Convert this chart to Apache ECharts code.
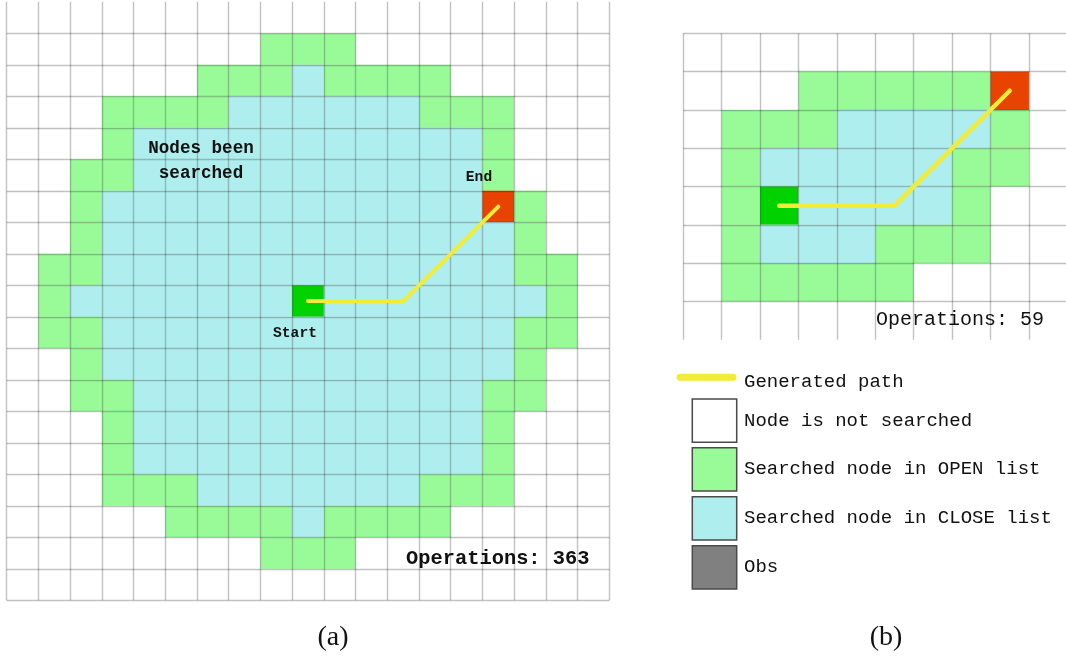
<!DOCTYPE html>
<html>
<head>
<meta charset="utf-8">
<script src="https://cdn.jsdelivr.net/npm/echarts@6/dist/echarts.min.js"></script>
<style>
  html, body { margin: 0; padding: 0; background: #fff; }
  #chart { width: 1066px; height: 662px; }
</style>
</head>
<body>
<div id="chart"></div>
<script>
// Cell states: '.' unsearched, 'o' OPEN list, 'c' CLOSE list, 'S' start, 'E' end
// Each row is written in chunks of 5 columns.
const leftRows = [
  "....." + "...oo" + "o...." + "....",
  "....." + ".oooc" + "oooo." + "....",
  "...oo" + "ooccc" + "cccoo" + "o...",
  "...oc" + "ccccc" + "ccccc" + "o...",
  "..ooc" + "ccccc" + "ccccc" + "o...",
  "..occ" + "ccccc" + "ccccc" + "Eo..",
  "..occ" + "ccccc" + "ccccc" + "co..",
  ".oocc" + "ccccc" + "ccccc" + "coo.",
  ".occc" + "ccccS" + "ccccc" + "cco.",
  ".oocc" + "ccccc" + "ccccc" + "coo.",
  "..occ" + "ccccc" + "ccccc" + "co..",
  "..ooc" + "ccccc" + "ccccc" + "oo..",
  "...oc" + "ccccc" + "ccccc" + "o...",
  "...oc" + "ccccc" + "ccccc" + "o...",
  "...oo" + "occcc" + "cccoo" + "o...",
  "....." + "ooooc" + "oooo." + "....",
  "....." + "...oo" + "o...." + "....",
  "....." + "....." + "....." + "...."
];
const rightRows = [
  "....." + ".....",
  "...oo" + "oooE.",
  ".oooc" + "ccco.",
  ".occc" + "ccoo.",
  ".oScc" + "cco..",
  ".occc" + "ooo..",
  ".oooo" + "o....",
  "....." + "....."
];
// Path waypoints in cell units (column, row), through cell centres
const leftPath = [[9.5, 8.5], [12.5, 8.5], [15.5, 5.5]];
const rightPath = [[2.5, 4.5], [5.5, 4.5], [8.5, 1.5]];
const operationCounts = [363, 59];
const panelTags = ["(a)", "(b)"];
const legendLabels = ["Generated path", "Node is not searched", "Searched node in OPEN list",
                      "Searched node in CLOSE list", "Obs"];
const legendStates = [".", "o", "c", "#"];

const stateOrder = [".", "o", "c", "S", "E", "#"];
const stateColor = {
  ".": "#ffffff",
  "o": "#98fb98",
  "c": "#afeeee",
  "S": "#00d200",
  "E": "#e84300",
  "#": "#808080"
};
const pathColor = "#f2ec38";

function toCells(rows) {
  const out = [];
  rows.forEach(function (row, r) {
    for (let c = 0; c < row.length; c++) {
      const s = row[c];
      if (s !== ".") out.push([c, r, stateOrder.indexOf(s)]);
    }
  });
  return out;
}

function renderCell(params, api) {
  const c = api.value(0), r = api.value(1);
  const p0 = api.coord([c, r]);
  const p1 = api.coord([c + 1, r + 1]);
  return {
    type: "rect",
    shape: {
      x: Math.min(p0[0], p1[0]),
      y: Math.min(p0[1], p1[1]),
      width: Math.abs(p1[0] - p0[0]),
      height: Math.abs(p1[1] - p0[1])
    },
    style: { fill: stateColor[stateOrder[api.value(2)]] }
  };
}

const gridLine = { show: true, lineStyle: { color: "rgba(0,0,0,0.24)", width: 1.4 } };
function cellAxis(gridIndex, min, max, extra) {
  return Object.assign({
    gridIndex: gridIndex, type: "value", min: min, max: max, interval: 1, z: 5,
    axisLine: { show: false }, axisTick: { show: false }, axisLabel: { show: false },
    splitLine: gridLine
  }, extra || {});
}

const monoFont = '"Liberation Mono", "DejaVu Sans Mono", monospace';
function label(text, x, y, size, weight, align) {
  return {
    type: "text", x: x, y: y, z: 100,
    style: {
      text: text, fill: "#111", fontFamily: monoFont, fontSize: size,
      fontWeight: weight, align: align || "left", verticalAlign: "middle", lineHeight: 25
    }
  };
}

const graphics = [
  label("Nodes been\nsearched", 201, 161, 17.6, "bold", "center"),
  label("Start", 295, 333.3, 14.6, "bold", "center"),
  label("End", 479, 177.3, 14.6, "bold", "center"),
  label("Operations: " + operationCounts[0], 406, 559.3, 20.4, "bold"),
  label("Operations: " + operationCounts[1], 876, 319.3, 20, "normal"),
  {
    type: "line", z: 100,
    shape: { x1: 680, y1: 377.3, x2: 733, y2: 377.3 },
    style: { stroke: pathColor, lineWidth: 7, lineCap: "round" }
  },
  label(legendLabels[0], 744, 382.3, 19, "normal")
];
const legendBoxTop = [399, 447.7, 496.7, 545.7];
const legendTextY = [420.7, 469.3, 517.7, 566.7];
legendStates.forEach(function (s, i) {
  graphics.push({
    type: "rect", z: 100,
    shape: { x: 692.3, y: legendBoxTop[i], width: 44.4, height: 43.3 },
    style: { fill: stateColor[s], stroke: "#4a4a4a", lineWidth: 1.5 }
  });
  graphics.push(label(legendLabels[i + 1], 744, legendTextY[i], 19, "normal"));
});
[333, 886].forEach(function (x, i) {
  graphics.push({
    type: "text", x: x, y: 638, z: 100,
    style: {
      text: panelTags[i], fill: "#111", fontFamily: '"Liberation Serif", serif',
      fontSize: 28, align: "center", verticalAlign: "middle"
    }
  });
});

const chart = echarts.init(document.getElementById("chart"), null, { renderer: "canvas" });
chart.setOption({
  backgroundColor: "#ffffff",
  animation: false,
  grid: [
    { left: 6.7, top: 1.8, width: 602.6, height: 598.5, outerBoundsMode: "none" },
    { left: 683.3, top: 33.3, width: 384, height: 306.4, outerBoundsMode: "none" }
  ],
  xAxis: [
    cellAxis(0, 0, 19),
    cellAxis(1, 0, 10)
  ],
  yAxis: [
    cellAxis(0, -1, 18, { inverse: true, splitLine: Object.assign({ showMinLine: false }, gridLine) }),
    cellAxis(1, 0, 8, { inverse: true, splitLine: Object.assign({ showMaxLine: false }, gridLine) })
  ],
  series: [
    {
      type: "custom", xAxisIndex: 0, yAxisIndex: 0, z: 2, silent: true,
      renderItem: renderCell, data: toCells(leftRows)
    },
    {
      type: "custom", xAxisIndex: 1, yAxisIndex: 1, z: 2, silent: true,
      renderItem: renderCell, data: toCells(rightRows)
    },
    {
      type: "line", xAxisIndex: 0, yAxisIndex: 0, z: 10, silent: true,
      data: leftPath, showSymbol: false, symbol: "none",
      lineStyle: { color: pathColor, width: 4, cap: "round", join: "round" }
    },
    {
      type: "line", xAxisIndex: 1, yAxisIndex: 1, z: 10, silent: true,
      data: rightPath, showSymbol: false, symbol: "none",
      lineStyle: { color: pathColor, width: 4.5, cap: "round", join: "round" }
    }
  ],
  graphic: graphics
});
</script>
</body>
</html>
